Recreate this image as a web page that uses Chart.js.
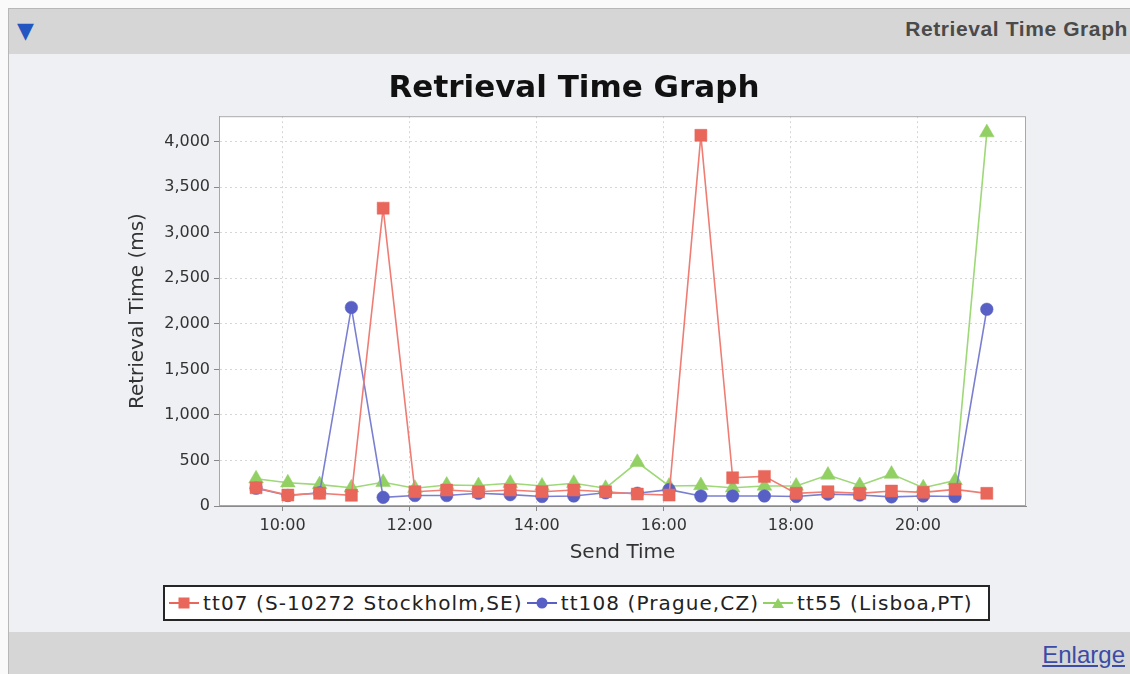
<!DOCTYPE html>
<html>
<head>
<meta charset="utf-8">
<script src="https://cdn.jsdelivr.net/npm/chart.js@4"></script>
<style>
  body { margin: 0; width: 1130px; height: 674px; overflow: hidden; position: relative; background: #fafafa; font-family: "Liberation Sans", Arial, sans-serif; }
  #panel { position: absolute; left: 8px; top: 8px; width: 1122px; height: 666px; background: #eef0f3; border-left: 1px solid #b8b8b8; border-top: 1px solid #b8b8b8; }
  #head { position: absolute; left: 9px; top: 9px; width: 1121px; height: 45px; background: #d6d6d6; }
  #head .arrow { position: absolute; left: 8px; top: 9px; color: #2356c0; font-size: 22px; font-family: "DejaVu Sans", sans-serif; }
  #head .ttl { position: absolute; right: 2px; top: 8px; font-weight: bold; font-size: 21px; color: #4a4a4a; letter-spacing: 0.6px; }
  #foot { position: absolute; left: 9px; top: 632px; width: 1121px; height: 42px; background: #d6d6d6; }
  #foot a { position: absolute; right: 5px; top: 9px; font-size: 24px; color: #3b4ba6; text-decoration: underline; }
  #chart { position: absolute; left: 0; top: 54px; }
  #legend { position: absolute; left: 163px; top: 585px; width: 823px; height: 32px; border: 2px solid #262626; background: #fff;
            display: flex; align-items: center; font-family: "DejaVu Sans", sans-serif; font-size: 20px; letter-spacing: 1.1px; color: #222; white-space: nowrap; }
  .item { display: flex; align-items: center; margin-left: 4px; }
  .mk { position: relative; width: 30px; height: 20px; margin-right: 4px; }
  .mk::before { content: ""; position: absolute; left: 0; right: 0; top: 9px; height: 2px; background: var(--c); }
  .mk i { position: absolute; left: 50%; top: 50%; transform: translate(-50%, -50%); background: var(--c); }
  .sq i { width: 11px; height: 11px; }
  .ci i { width: 11px; height: 11px; border-radius: 50%; }
  .tr i { width: 0; height: 0; background: none; border-left: 6px solid transparent; border-right: 6px solid transparent; border-bottom: 10px solid var(--c); }
</style>
</head>
<body>
<div id="panel"></div>
<div id="head"><span class="arrow">▼</span><span class="ttl">Retrieval Time Graph</span></div>
<canvas id="chart" width="1130" height="521"></canvas>
<div id="legend"></div>
<div id="foot"><a href="#">Enlarge</a></div>

<script>
// send times (every half hour)
const sendTimes = ["09:35", "10:05", "10:35", "11:05", "11:35", "12:05", "12:35", "13:05",
                   "13:35", "14:05", "14:35", "15:05", "15:35", "16:05", "16:35", "17:05",
                   "17:35", "18:05", "18:35", "19:05", "19:35", "20:05", "20:35", "21:05"];

const stockholm = [200, 120, 140, 117, 3270, 157, 175, 157, 175, 157, 175, 157,
                   131, 120, 4070, 310, 325, 139, 157, 139, 164, 150, 183, 139];
const prague    = [195, 115, 145, 2180, 95, 115, 115, 140, 125, 105, 110, 145,
                   140, 180, 110, 110, 110, 105, 130, 120, 100, 110, 105, 2160];
const lisboa    = [300, 255, 235, 200, 260, 195, 230, 225, 250, 220, 250, 195,
                   480, 220, 225, 200, 220, 220, 340, 225, 350, 200, 280, 4100];

const seriesNames = ["tt07 (S-10272 Stockholm,SE)", "tt108 (Prague,CZ)", "tt55 (Lisboa,PT)"];
const markColors = ["#e8665a", "#5860c6", "#92d064"];
const lineColors = ["#ef7d74", "#7a7fd2", "#9ed878"];
const markStyles = ["rect", "circle", "triangle"];

const xTickHours = [10, 12, 14, 16, 18, 20];
const yTicks = [0, 500, 1000, 1500, 2000, 2500, 3000, 3500, 4000];

const toHours = t => { const [h, m] = t.split(":").map(Number); return h + m / 60; };
const pts = vals => vals.map((v, i) => ({ x: toHours(sendTimes[i]), y: v }));

const sizes = [8.5, 6.3, 8.5];
const datasets = [stockholm, prague, lisboa].map((vals, i) => ({
  label: seriesNames[i],
  data: pts(vals),
  borderColor: lineColors[i],
  borderWidth: 1.6,
  pointStyle: markStyles[i],
  pointRadius: sizes[i],
  pointBackgroundColor: markColors[i],
  pointBorderColor: markColors[i],
  pointBorderWidth: 0.5,
  tension: 0
}));

const plotFrame = {
  id: "plotFrame",
  beforeDraw(chart) {
    const { ctx, chartArea: a } = chart;
    ctx.save();
    ctx.fillStyle = "#ffffff";
    ctx.fillRect(a.left, a.top, a.width, a.height);
    ctx.restore();
  },
  afterDraw(chart) {
    const { ctx, chartArea: a } = chart;
    ctx.save();
    ctx.strokeStyle = "#a8a8a8";
    ctx.lineWidth = 1;
    ctx.strokeRect(a.left + 0.5, a.top + 0.5, a.width - 1, a.height - 1);
    ctx.restore();
  }
};

new Chart(document.getElementById("chart"), {
  type: "line",
  data: { datasets },
  plugins: [plotFrame],
  options: {
    responsive: false,
    animation: false,
    devicePixelRatio: 1,
    layout: { padding: { left: 122, right: 104, top: 0, bottom: 0 } },
    plugins: {
      legend: { display: false },
      tooltip: { enabled: false },
      title: {
        display: true,
        text: "Retrieval Time Graph",
        color: "#111",
        font: { family: "DejaVu Sans", size: 31, weight: "bold" },
        padding: { top: 16, bottom: 9 }
      }
    },
    scales: {
      x: {
        type: "linear",
        min: 9,
        max: 21.7,
        afterBuildTicks: s => { s.ticks = xTickHours.map(v => ({ value: v })); },
        afterFit: s => { s.height = 69; },
        ticks: {
          callback: v => v + ":00",
          color: "#333",
          padding: 5,
          maxRotation: 0,
          font: { family: "DejaVu Sans", size: 16 }
        },
        grid: { color: "#d6d6d6", tickColor: "#888", tickLength: 5 },
        border: { color: "#8a8a8a", dash: [2, 3] },
        title: {
          display: true,
          text: "Send Time",
          color: "#333",
          font: { family: "DejaVu Sans", size: 20 },
          padding: { top: 2, bottom: 10 }
        }
      },
      y: {
        min: 0,
        max: 4280,
        afterBuildTicks: s => { s.ticks = yTicks.map(v => ({ value: v })); },
        afterFit: s => { s.width = 97; },
        ticks: {
          callback: v => v.toLocaleString("en-US"),
          color: "#333",
          padding: 4,
          font: { family: "DejaVu Sans", size: 16 }
        },
        grid: { color: "#d6d6d6", tickColor: "#888", tickLength: 5 },
        border: { color: "#8a8a8a", dash: [2, 3] },
        title: {
          display: true,
          text: "Retrieval Time (ms)",
          color: "#333",
          font: { family: "DejaVu Sans", size: 20 },
          padding: { top: 4, bottom: 4 }
        }
      }
    }
  }
});

// HTML legend built from the same series
const legend = document.getElementById("legend");
const shapeClass = ["sq", "ci", "tr"];
seriesNames.forEach((name, i) => {
  const item = document.createElement("div");
  item.className = "item";
  item.innerHTML = `<span class="mk ${shapeClass[i]}" style="--c:${markColors[i]}"><i></i></span><span>${name}</span>`;
  legend.appendChild(item);
});
</script>
</body>
</html>
